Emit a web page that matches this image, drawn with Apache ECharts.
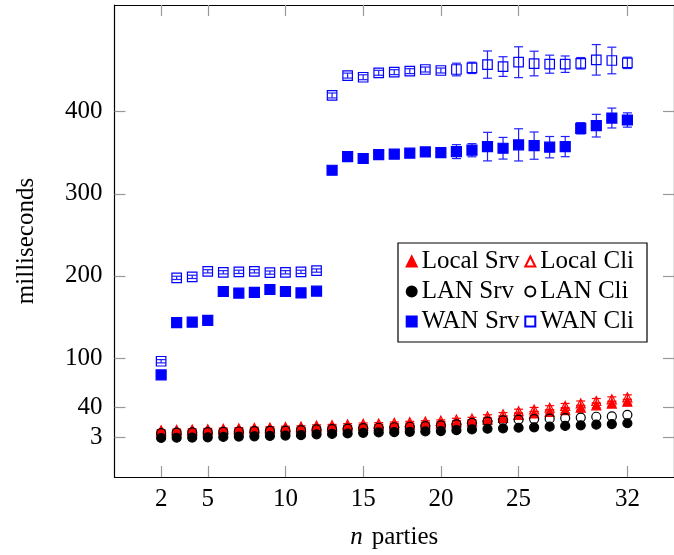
<!DOCTYPE html>
<html>
<head>
<meta charset="utf-8">
<script src="https://cdn.jsdelivr.net/npm/echarts@6/dist/echarts.min.js"></script>
<style>
html, body { margin: 0; padding: 0; background: #fff; }
#main { width: 674px; height: 555px; }
</style>
</head>
<body>
<div id="main"></div>
<script>
// number of parties (x)
var nParties = [2, 3, 4, 5, 6, 7, 8, 9, 10, 11, 12, 13, 14, 15, 16, 17, 18, 19, 20, 21, 22, 23, 24, 25, 26, 27, 28, 29, 30, 31, 32];

// milliseconds
var localSrv = [10.5, 11, 11.3, 11.8, 12.3, 12.7, 13.2, 13.6, 14, 14.5, 15.5, 16, 16.6, 17.2, 17.5, 18.1, 18.8, 19.4, 20.3, 21.4, 22.5, 24.8, 27, 30.5, 32.4, 34.4, 36.5, 39.4, 42.3, 44.4, 46.8];
var localCli = [11.8, 12.3, 12.7, 13.2, 13.7, 14.2, 14.8, 15.3, 15.9, 16.4, 17.6, 18.1, 19, 19.8, 20.2, 21, 21.8, 22.6, 23.6, 25, 26.2, 28.8, 31.4, 35.1, 37.2, 39.4, 41.6, 44.6, 47.6, 49.6, 52.1];
var localErr = [1, 1, 1, 1, 1, 1, 1, 1, 1, 1, 1, 1, 1, 1, 1, 1, 1, 1, 1, 1.5, 1.5, 2, 2, 2.5, 2.5, 2.5, 3, 3, 3, 3, 3];
var lanSrv = [2.5, 2.8, 3, 3.3, 3.8, 4.2, 4.6, 5, 5.5, 6, 7, 7.5, 8, 8.8, 9.3, 9.6, 10, 10.5, 11, 12, 13, 13.8, 14.3, 15, 15.5, 16.3, 17.2, 18, 18.8, 19.5, 20.5];
var lanCli = [8.5, 9, 9.3, 9.6, 10, 10.4, 10.8, 11.2, 11.6, 12, 13, 13.4, 14, 14.6, 15, 15.6, 16.2, 17, 17.8, 19, 21, 22.5, 24, 25, 25.6, 26, 26.8, 27.4, 28.4, 28.8, 30.8];
var wanSrv = [79.4, 143, 143.7, 145.8, 181, 179, 179.8, 183.4, 181, 179.3, 181.4, 328.7, 345.3, 343, 347.8, 348.3, 349.5, 351, 350.2, 351.4, 353.1, 357.5, 355.5, 359.6, 358.7, 356.8, 357.5, 379.8, 383, 392.3, 389.9];
var wanSrvErr = [1.5, 1.5, 1.5, 1.5, 1.5, 1.5, 1.5, 1.5, 1.5, 1.5, 1.5, 1.5, 1.5, 1.5, 1.5, 1.5, 1.5, 1.5, 1.5, 8.5, 8, 17.4, 13.2, 19.6, 16.6, 13, 12.3, 6.9, 13.8, 12.1, 8.7];
var wanCli = [96, 197.6, 198.8, 205.6, 204.4, 204.9, 205.6, 204, 204.4, 204.9, 206.5, 419.8, 444, 442, 447.4, 448.2, 449.4, 451.4, 450.2, 451.4, 453.4, 457.4, 455, 460.3, 458.7, 457.9, 457.9, 459, 463.2, 462.4, 459.5];
var wanCliErr = [2, 2, 2, 2, 2, 2, 2, 2, 2, 2, 2, 3, 3, 3, 3, 3, 3, 3, 3, 7.7, 6.9, 16.6, 12, 18.8, 15, 11, 10, 7, 18.6, 16.2, 6.9];

var xTicks = [2, 5, 10, 15, 20, 25, 32];
var yTicks = [3, 40, 100, 200, 300, 400];

var FONT = "Liberation Serif";
var myChart = echarts.init(document.getElementById("main"));

function pts(vals) {
  return nParties.map(function (n, i) { return [n, vals[i]]; });
}

// vertical error bars with caps
function errorBars(vals, errs, color) {
  return {
    type: "custom",
    silent: true,
    z: 1,
    data: nParties.map(function (n, i) { return [n, vals[i] - errs[i], vals[i] + errs[i]]; }),
    encode: { x: 0, y: [1, 2] },
    renderItem: function (params, api) {
      var lo = api.coord([api.value(0), api.value(1)]);
      var hi = api.coord([api.value(0), api.value(2)]);
      var w = 4.5;
      var st = { stroke: color, lineWidth: 1.2 };
      return {
        type: "group",
        children: [
          { type: "line", shape: { x1: hi[0], y1: hi[1], x2: lo[0], y2: lo[1] }, style: st },
          { type: "line", shape: { x1: hi[0] - w, y1: hi[1], x2: hi[0] + w, y2: hi[1] }, style: st },
          { type: "line", shape: { x1: lo[0] - w, y1: lo[1], x2: lo[0] + w, y2: lo[1] }, style: st }
        ]
      };
    }
  };
}

function marks(name, vals, symbol, size, fill, edge) {
  return {
    type: "scatter",
    name: name,
    data: pts(vals),
    symbol: symbol,
    symbolSize: size,
    z: 2,
    itemStyle: { color: fill, borderColor: edge, borderWidth: 1.2, opacity: 1 }
  };
}

var tickStyle = { color: "#999", width: 1.2 };
var lineStyle = { color: "#000", width: 1.2 };
var labelStyle = { fontFamily: FONT, fontSize: 25, color: "#000" };

var option = {
  animation: false,
  backgroundColor: "#fff",
  grid: { left: 114.5, top: 5, width: 567, height: 473.3 },
  xAxis: [
    {
      type: "value", min: -1, max: 35, position: "bottom",
      axisLine: { show: true, onZero: false, lineStyle: lineStyle },
      axisTick: { show: true, inside: true, length: 11, customValues: xTicks, lineStyle: tickStyle },
      axisLabel: Object.assign({ customValues: xTicks, margin: 10 }, labelStyle),
      splitLine: { show: false },
      name: "{i|n}{r|parties}",
      nameLocation: "middle",
      nameGap: 48,
      nameTextStyle: {
        rich: {
          i: { fontFamily: FONT, fontSize: 25, fontStyle: "italic", color: "#000", padding: [0, 9, 0, 0] },
          r: { fontFamily: FONT, fontSize: 25, color: "#000" }
        }
      }
    },
    {
      type: "value", min: -1, max: 35, position: "top",
      axisLine: { show: true, onZero: false, lineStyle: lineStyle },
      axisTick: { show: true, inside: true, length: 11, customValues: xTicks, lineStyle: tickStyle },
      axisLabel: { show: false },
      splitLine: { show: false }
    }
  ],
  yAxis: [
    {
      type: "value", min: -45, max: 530, position: "left",
      axisLine: { show: true, onZero: false, lineStyle: lineStyle },
      axisTick: { show: true, inside: true, length: 11, customValues: yTicks, lineStyle: tickStyle },
      axisLabel: Object.assign({ customValues: yTicks, margin: 12 }, labelStyle),
      splitLine: { show: false },
      name: "milliseconds",
      nameLocation: "middle",
      nameGap: 76,
      nameTextStyle: labelStyle
    },
    {
      type: "value", min: -45, max: 530, position: "right",
      axisLine: { show: true, onZero: false, lineStyle: lineStyle },
      axisTick: { show: true, inside: true, length: 11, customValues: yTicks, lineStyle: tickStyle },
      axisLabel: { show: false },
      splitLine: { show: false }
    }
  ],
  graphic: [
    {
      type: "rect", z: 3,
      shape: { x: 398, y: 243, width: 249, height: 99 },
      style: { fill: "#fff", stroke: "#000", lineWidth: 1.2 }
    }
  ],
  legend: [
    {
      orient: "vertical", left: 405.7, top: 249, padding: 0, z: 5,
      itemWidth: 10, itemHeight: 10, itemGap: 5,
      data: ["Local Srv", "LAN Srv", "WAN Srv"],
      textStyle: { fontFamily: FONT, fontSize: 25, color: "#000", lineHeight: 25 }
    },
    {
      orient: "vertical", left: 524.3, top: 249, padding: 0, z: 5,
      itemWidth: 10, itemHeight: 10, itemGap: 5,
      data: ["Local Cli", "LAN Cli", "WAN Cli"],
      textStyle: { fontFamily: FONT, fontSize: 25, color: "#000", lineHeight: 25 }
    }
  ],
  series: [
    errorBars(localSrv, localErr, "#ff0000"),
    marks("Local Srv", localSrv, "triangle", 9, "#ff0000", "#ff0000"),
    errorBars(localCli, localErr, "#ff0000"),
    marks("Local Cli", localCli, "triangle", 9, "rgba(255,255,255,0)", "#ff0000"),
    marks("LAN Srv", lanSrv, "circle", 9, "#000", "#000"),
    marks("LAN Cli", lanCli, "circle", 9, "rgba(255,255,255,0)", "#000"),
    errorBars(wanSrv, wanSrvErr, "#2020ff"),
    marks("WAN Srv", wanSrv, "rect", 10, "#0000ff", "#0000ff"),
    errorBars(wanCli, wanCliErr, "#2020ff"),
    marks("WAN Cli", wanCli, "rect", 9.5, "rgba(255,255,255,0)", "#0000ff")
  ]
};

myChart.setOption(option);
</script>
</body>
</html>
